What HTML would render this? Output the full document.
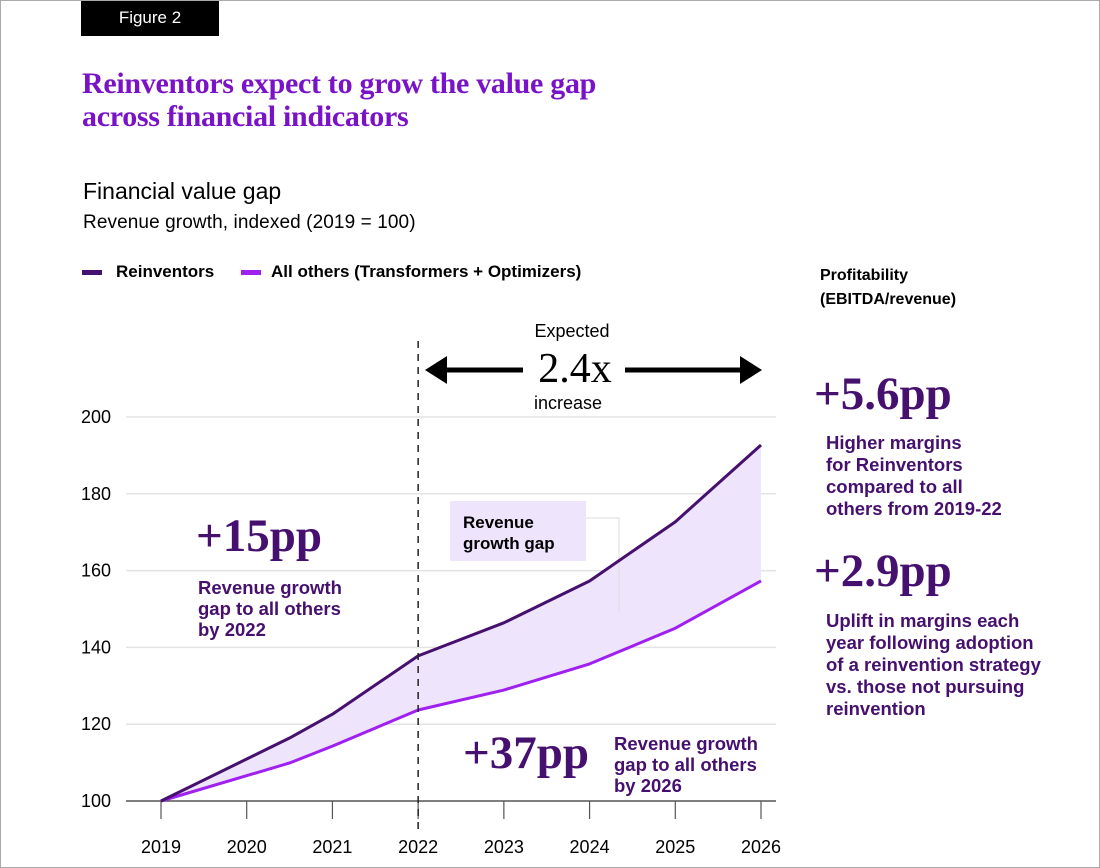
<!DOCTYPE html>
<html><head><meta charset="utf-8"><style>
body{margin:0;background:#fff;}
#wrap{position:relative;width:1098px;height:866px;border:1px solid #aaa;overflow:hidden;font-family:"Liberation Sans",sans-serif;}
.abs{position:absolute;}
.serif{font-family:"Liberation Serif",serif;}
</style></head><body>
<div id="wrap">
<div class="abs" style="left:80px;top:0;width:138px;height:35px;background:#000;color:#fff;font-size:17px;line-height:34px;text-align:center;">Figure 2</div>
<div class="abs serif" style="left:81px;top:66px;font-size:30px;font-weight:bold;line-height:33px;color:#7a13c7;letter-spacing:-0.3px;">Reinventors expect to grow the value gap<br>across financial indicators</div>
<div class="abs" style="left:82px;top:177px;font-size:23px;color:#000;">Financial value gap</div>
<div class="abs" style="left:82px;top:211px;font-size:19px;letter-spacing:0.1px;color:#000;">Revenue growth, indexed (2019 = 100)</div>
<div class="abs" style="left:81px;top:261px;font-size:17px;font-weight:bold;"><span style="display:inline-block;width:20px;height:5px;background:#46106e;vertical-align:middle;margin-right:14px;"></span>Reinventors</div>
<div class="abs" style="left:240px;top:261px;font-size:17px;font-weight:bold;"><span style="display:inline-block;width:20px;height:5px;background:#a020f0;vertical-align:middle;margin-right:10px;"></span>All others (Transformers + Optimizers)</div>
<div class="abs" style="left:819px;top:263px;font-size:16px;font-weight:bold;line-height:24px;">Profitability<br>(EBITDA/revenue)</div>
<div class="abs serif" style="left:813px;top:366px;font-size:47px;font-weight:bold;color:#46106e;">+5.6pp</div>
<div class="abs" style="left:825px;top:431px;font-size:18.5px;line-height:22px;font-weight:bold;color:#46106e;">Higher margins<br>for Reinventors<br>compared to all<br>others from 2019-22</div>
<div class="abs serif" style="left:813px;top:543px;font-size:47px;font-weight:bold;color:#46106e;">+2.9pp</div>
<div class="abs" style="left:825px;top:609px;font-size:18.5px;line-height:22px;font-weight:bold;color:#46106e;">Uplift in margins each<br>year following adoption<br>of a reinvention strategy<br>vs. those not pursuing<br>reinvention</div>
<div class="abs serif" style="left:195px;top:508px;font-size:47px;font-weight:bold;color:#46106e;">+15pp</div>
<div class="abs" style="left:197px;top:576px;font-size:18.5px;line-height:21px;font-weight:bold;color:#46106e;">Revenue growth<br>gap to all others<br>by 2022</div>
<div class="abs serif" style="left:462px;top:725px;font-size:47px;font-weight:bold;color:#46106e;">+37pp</div>
<div class="abs" style="left:613px;top:732px;font-size:18.5px;line-height:21px;font-weight:bold;color:#46106e;">Revenue growth<br>gap to all others<br>by 2026</div>
<svg class="abs" style="left:0;top:0" width="1100" height="868" id="chart"></svg>
</div>
<script>
const years=[2019,2020.5,2021,2022,2023,2024,2025,2026];
const reinventors=[100,116.4,122.6,137.8,146.4,157.3,172.7,192.7];
const allOthers=[100,109.9,114.3,123.7,128.9,135.7,145,157.3];
const yTicks=[100,120,140,160,180,200];
const xTicks=[2019,2020,2021,2022,2023,2024,2025,2026];
const NS="http://www.w3.org/2000/svg";
const svg=document.getElementById('chart');
const X=v=>160+(v-2019)*(600/7);
const Y=v=>800-(v-100)*3.84;
function mk(t,a){const e=document.createElementNS(NS,t);for(const k in a)e.setAttribute(k,a[k]);svg.appendChild(e);return e;}
yTicks.forEach(t=>{
 if(t>100){const g=mk('line',{x1:125,x2:775,y1:Y(t),y2:Y(t),stroke:'#e3e3e3','stroke-width':1.5});
 
 }
 const l=mk('text',{x:80,y:Y(t)+6,'font-size':18,'font-family':'Liberation Sans, sans-serif',fill:'#000'});l.textContent=t;
 
 
});
const ax=mk('line',{x1:125,x2:775,y1:800,y2:800,stroke:'#555','stroke-width':1.5});


xTicks.forEach(t=>{
 const tk=mk('line',{x1:X(t),x2:X(t),y1:800,y2:818,stroke:'#555','stroke-width':1.2});
 
 
 const l=mk('text',{x:X(t),y:852,'text-anchor':'middle','font-size':18,'font-family':'Liberation Sans, sans-serif',fill:'#000'});l.textContent=t;
 
 
});
const upperPts=reinventors.map((v,i)=>X(years[i])+','+Y(v));
const lowerPts=allOthers.map((v,i)=>X(years[i])+','+Y(v));
const area=mk('polygon',{points:upperPts.concat(lowerPts.slice().reverse()).join(' '),fill:'#eee5fd'});


const gb=mk('rect',{x:449,y:500,width:136,height:60,fill:'#eee5fd'});


const gl=mk('polyline',{points:'585,517 618,517 618,612',fill:'none',stroke:'#ddd','stroke-width':1});


[['Revenue',527],['growth gap',548]].forEach(([s,y])=>{const t=mk('text',{x:462,y:y,'font-size':17,'font-family':'Liberation Sans, sans-serif','font-weight':'bold',fill:'#000'});t.textContent=s;
 
 });
const l1=mk('polyline',{points:lowerPts.join(' '),fill:'none',stroke:'#a020f0','stroke-width':3,'stroke-linejoin':'round'});


const l2=mk('polyline',{points:upperPts.join(' '),fill:'none',stroke:'#46106e','stroke-width':3,'stroke-linejoin':'round'});


const dv=mk('line',{x1:X(2022),x2:X(2022),y1:340,y2:830,stroke:'#222','stroke-width':1.5,'stroke-dasharray':'7,6'});


const ar=mk('g',{});


ar.innerHTML='<line x1="440" x2="522" y1="369" y2="369" stroke="#000" stroke-width="5"/><line x1="624" x2="745" y1="369" y2="369" stroke="#000" stroke-width="5"/><polygon points="424,369 446,355 446,383" fill="#000"/><polygon points="761,369 739,355 739,383" fill="#000"/>'+
'<text x="571" y="336" text-anchor="middle" font-size="18" font-family="Liberation Sans, sans-serif" fill="#000">Expected</text>'+
'<text x="574" y="381" text-anchor="middle" font-size="42" font-family="Liberation Serif, serif" fill="#000">2.4x</text>'+
'<text x="567" y="408" text-anchor="middle" font-size="18" font-family="Liberation Sans, sans-serif" fill="#000">increase</text>';
</script>
</body></html>
